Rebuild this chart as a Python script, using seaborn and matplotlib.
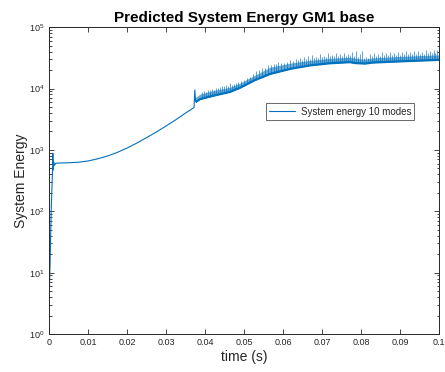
import matplotlib
matplotlib.use("Agg")
import matplotlib.pyplot as plt
import seaborn as sns
import numpy as np
import pandas as pd
from matplotlib.ticker import LogLocator, NullFormatter, FixedLocator

# Startup transient and smooth build-up of system energy (time in s)
t_smooth = [0.0, 0.0003, 0.0006, 0.0009, 0.0010, 0.0011, 0.0012, 0.0014, 0.0017,
            0.002, 0.005, 0.0075, 0.010, 0.0125, 0.015, 0.0175, 0.020, 0.0225,
            0.025, 0.0275, 0.030, 0.0325, 0.035, 0.0372, 0.0374, 0.0376]
e_smooth = [3, 15, 120, 420, 880, 470, 640, 560, 600,
            610, 617, 630, 660, 716, 795, 910, 1070, 1290,
            1580, 1950, 2450, 3090, 3980, 4900, 9500, 6200]

# Oscillating regime: lower and upper envelope of the energy band
t_band = [0.0376, 0.0387, 0.0420, 0.0464, 0.0490, 0.0528, 0.0567, 0.0620,
          0.0669, 0.0720, 0.0772, 0.0785, 0.0810, 0.0830, 0.0900, 0.1000]
e_low = [6000, 6700, 7600, 8800, 10300, 13700, 17300, 21000,
         23800, 25800, 26900, 26000, 25500, 26500, 27700, 29300]
e_high = [7200, 8100, 9200, 10500, 12300, 16500, 22300, 26000,
          28700, 31000, 32400, 31300, 30000, 31500, 33400, 35400]

# Individual energy peaks rising above the band
t_peak = [0.0392, 0.0397, 0.0403, 0.0408, 0.0413, 0.0418, 0.0423, 0.0428,
          0.0433, 0.0438, 0.0444, 0.0449, 0.0454, 0.0459, 0.0464, 0.0469,
          0.0474, 0.0479, 0.0485, 0.0492, 0.0500, 0.0507, 0.0515, 0.0523,
          0.0531, 0.0538, 0.0546, 0.0554, 0.0562, 0.0569, 0.0577, 0.0582,
          0.0587, 0.0595, 0.0603, 0.0610, 0.0618, 0.0625, 0.0633, 0.0638,
          0.0644, 0.0649, 0.0654, 0.0659, 0.0664, 0.0669, 0.0674, 0.0679,
          0.0685, 0.0690, 0.0695, 0.0700, 0.0705, 0.0710, 0.0715, 0.0720,
          0.0726, 0.0731, 0.0736, 0.0741, 0.0746, 0.0751, 0.0756, 0.0761,
          0.0767, 0.0772, 0.0777, 0.0782, 0.0787, 0.0792, 0.0797, 0.0803,
          0.0808, 0.0813, 0.0818, 0.0823, 0.0828, 0.0833, 0.0838, 0.0844,
          0.0849, 0.0854, 0.0859, 0.0864, 0.0869, 0.0874, 0.0879, 0.0885,
          0.0890, 0.0895, 0.0900, 0.0905, 0.0910, 0.0915, 0.0920, 0.0926,
          0.0931, 0.0936, 0.0941, 0.0946, 0.0951, 0.0956, 0.0961, 0.0967,
          0.0972, 0.0977, 0.0982, 0.0987, 0.0991, 0.0995]
e_peak = [8700, 9000, 8900, 9400, 9300, 9700, 9600, 10100,
          10200, 10600, 10800, 11000, 11500, 11200, 12300, 11600,
          12000, 12200, 12900, 13300, 14000, 15000, 15500, 17200,
          19000, 19800, 21500, 22000, 24000, 24000, 25000, 25000,
          27000, 26400, 26500, 27500, 29000, 28300, 30500, 29000,
          31000, 29700, 33000, 30300, 34500, 30800, 35500, 31400,
          33000, 31900, 36000, 32400, 34000, 32900, 37500, 33300,
          35000, 33600, 38000, 33900, 36500, 34200, 38500, 34500,
          37000, 34800, 39000, 33800, 41000, 32500, 37000, 40500,
          31000, 33000, 32000, 36500, 33600, 38500, 34100, 37000,
          34400, 39000, 34700, 38000, 35000, 39500, 35300, 38000,
          35600, 40000, 35800, 39000, 36000, 41000, 36200, 40000,
          36500, 40500, 36700, 41500, 36900, 40000, 37100, 42000,
          37400, 41000, 37600, 43000, 37800, 42000]

x_ticks = [0, 0.01, 0.02, 0.03, 0.04, 0.05, 0.06, 0.07, 0.08, 0.09, 0.1]
x_labels = ["0", "0.01", "0.02", "0.03", "0.04", "0.05", "0.06", "0.07",
            "0.08", "0.09", "0.1"]
y_ticks = [1, 10, 100, 1000, 10000, 100000]
y_labels = [r"$10^{0}$", r"$10^{1}$", r"$10^{2}$", r"$10^{3}$", r"$10^{4}$",
            r"$10^{5}$"]

sns.set_style("ticks")
plt.rcParams["font.family"] = ["Liberation Sans", "DejaVu Sans"]
plt.rcParams["mathtext.fontset"] = "custom"
plt.rcParams["mathtext.rm"] = "Liberation Sans"
plt.rcParams["mathtext.it"] = "Liberation Sans:italic"

blue = "#0072BD"
axis_gray = "#262626"

fig, ax = plt.subplots(figsize=(4.45, 3.72), dpi=100)
fig.subplots_adjust(left=0.110, right=0.9865, top=0.927, bottom=0.102)

df = pd.DataFrame({"time": t_smooth, "energy": e_smooth})
sns.lineplot(data=df, x="time", y="energy", ax=ax, color=blue, lw=0.8,
             label="System energy 10 modes", estimator=None, sort=False)

ax.fill_between(t_band, e_low, e_high, color=blue, alpha=0.6, lw=0)
ax.plot(t_band, e_low, color=blue, lw=1.6, solid_capstyle="butt")
low_at_peak = np.interp(t_peak, t_band, e_low)
ax.vlines(t_peak, low_at_peak, e_peak, color=blue, lw=0.55, alpha=0.8)

ax.set_yscale("log")
ax.set_xlim(0, 0.1)
ax.set_ylim(1, 1e5)
ax.xaxis.set_major_locator(FixedLocator(x_ticks))
ax.set_xticklabels(x_labels)
ax.yaxis.set_major_locator(FixedLocator(y_ticks))
ax.set_yticklabels(y_labels)
ax.yaxis.set_minor_locator(LogLocator(base=10, subs=np.arange(2, 10), numticks=20))
ax.yaxis.set_minor_formatter(NullFormatter())

ax.tick_params(which="both", direction="in", top=True, right=True,
               colors=axis_gray, labelsize=6.5, width=0.6)
ax.tick_params(which="major", length=3.5, pad=3)
ax.tick_params(which="minor", length=1.8)
for sp in ax.spines.values():
    sp.set_visible(True)
    sp.set_color(axis_gray)
    sp.set_linewidth(0.7)

ax.set_title("Predicted System Energy GM1 base", fontsize=11, fontweight="bold",
             color="black", pad=4)
ax.set_xlabel("time (s)", fontsize=10, color=axis_gray, labelpad=2)
ax.set_ylabel("System Energy", fontsize=10, color=axis_gray, labelpad=1)

leg = ax.legend(loc="upper right", bbox_to_anchor=(0.937, 0.752), fontsize=7,
                frameon=True, fancybox=False, handlelength=2.6,
                borderpad=0.35, handletextpad=0.6, borderaxespad=0)
leg.get_frame().set_edgecolor(axis_gray)
leg.get_frame().set_linewidth(0.6)
for line in leg.get_lines():
    line.set_linewidth(0.8)

fig.savefig("out.png", dpi=100)
